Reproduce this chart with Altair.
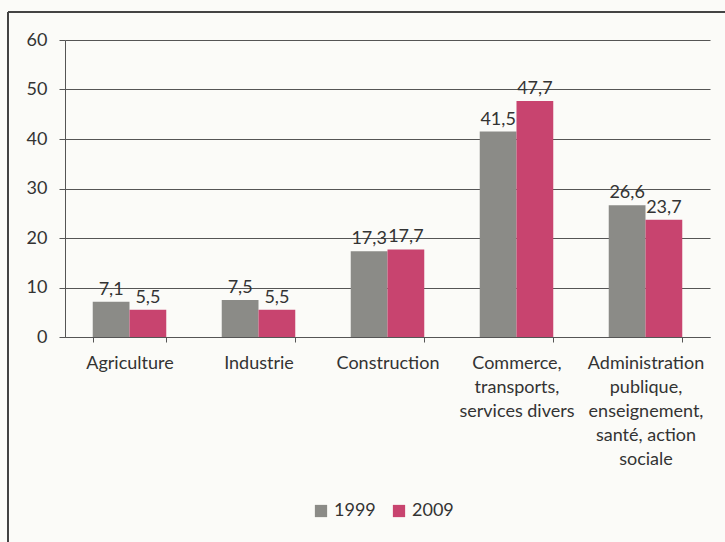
import altair as alt
import pandas as pd

categories = ["Agriculture", "Industrie", "Construction",
              "Commerce,\ntransports,\nservices divers",
              "Administration\npublique,\nenseignement,\nsanté, action\nsociale"]
years = ["1999", "2009"]
values_1999 = [7.1, 7.5, 17.3, 41.5, 26.6]
values_2009 = [5.5, 5.5, 17.7, 47.7, 23.7]

rows = []
for c, a, b in zip(categories, values_1999, values_2009):
    rows.append({"cat": c, "year": "1999", "val": a})
    rows.append({"cat": c, "year": "2009", "val": b})
df = pd.DataFrame(rows)

FONT = "Lato"
TXT = "#333333"
FS = 18

x = alt.X("cat:N", sort=categories, title=None,
          scale=alt.Scale(paddingInner=0.43, paddingOuter=0.215),
          axis=alt.Axis(labelExpr="isValid(datum.value) ? split(datum.value, '\\n') : ''",
                        labelAngle=0,
                        tickBand="extent", labelFontSize=FS, labelColor=TXT,
                        labelFont=FONT, labelPadding=12, domainColor="#555555",
                        tickColor="#555555", tickSize=5, labelLineHeight=24))
y = alt.Y("val:Q", title=None,
          scale=alt.Scale(domain=[0, 60]),
          axis=alt.Axis(values=[0, 10, 20, 30, 40, 50, 60], labelFontSize=FS,
                        labelColor=TXT, labelFont=FONT, gridColor="#555555",
                        gridWidth=1, domainColor="#555555", tickColor="#555555",
                        tickSize=6, labelPadding=12))
color = alt.Color("year:N", title=None,
                  scale=alt.Scale(domain=years, range=["#8b8b87", "#c8446f"]),
                  legend=alt.Legend(orient="none", legendX=247, legendY=462,
                                    direction="horizontal",
                                    symbolType="square", symbolSize=150,
                                    labelFontSize=FS, labelFont=FONT,
                                    labelColor=TXT, columnPadding=14,
                                    labelOffset=4, symbolStrokeWidth=0))
xo = alt.XOffset("year:N", sort=years)

bars = alt.Chart(df).mark_bar().encode(x=x, y=y, color=color, xOffset=xo)
labels = alt.Chart(df).transform_calculate(
    lbl="replace(format(datum.val, '.1f'), '.', ',')"
).mark_text(dy=-12, fontSize=FS, font=FONT, color=TXT).encode(
    x=x, y=y, xOffset=xo, text="lbl:N")

border = alt.Chart(df).mark_rule(color="#444444", strokeWidth=1.2).encode(
    x=alt.value(-57), y=alt.value(-28), y2=alt.value(520))
border_top = alt.Chart(df).mark_rule(color="#444444", strokeWidth=1.2).encode(
    x=alt.value(-57), x2=alt.value(670), y=alt.value(-28))

chart = alt.layer(bars, labels, border, border_top).properties(
    width=645, height=297,
    autosize=alt.AutoSizeParams(type="none"),
    padding={"left": 65, "top": 40, "right": 15, "bottom": 205},
    background="#fbfbf8"
).configure_view(stroke=None)

chart.save("out.html", embed_options={"renderer": "svg", "actions": False})
